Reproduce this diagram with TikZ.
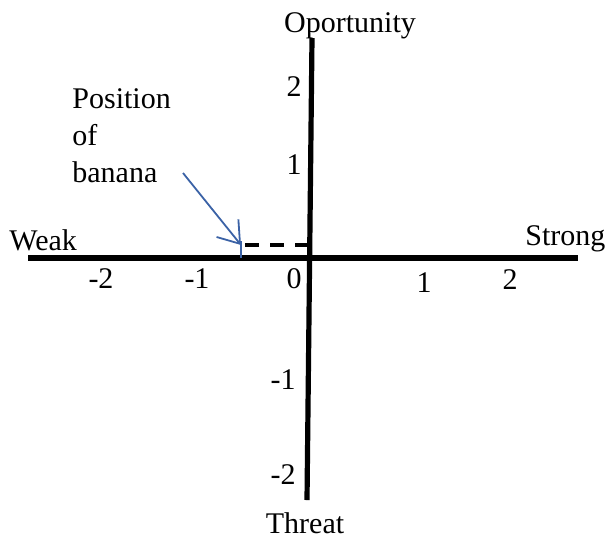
\documentclass[tikz,border=0pt]{standalone}
\usepackage{fontspec}
\setmainfont{Liberation Serif}
\newfontfamily\plotfont{Liberation Serif}
\usepackage{xcolor}
\usetikzlibrary{arrows.meta,calc,positioning}
\definecolor{arrowblue}{HTML}{3B62A6}

\begin{document}
\begin{tikzpicture}[x=0.5pt,y=-0.5pt,
  axis/.style={line width=2.6pt,black},
  lbl/.style={font=\plotfont\fontsize{15}{18.5}\selectfont,inner sep=0pt},
  num/.style={lbl},
  guide/.style={line width=2pt,dash pattern=on 7pt off 5.5pt},
  pointer/.style={-{Straight Barb[length=10pt,width=14pt,line width=0.9pt]},line width=0.9pt,arrowblue}]
  \useasboundingbox (0,0) rectangle (609,542);
  % axes
  \coordinate (xl) at (28,258);
  \coordinate (xr) at (578,258);
  \coordinate (yt) at (312,38);
  \coordinate (yb) at (307,500);
  \draw[axis] (xl) -- (xr);
  \draw[axis] (yt) -- (yb);
  % axis names
  \node[lbl,anchor=base] (opp) at (350,32) {Oportunity};
  \node[lbl,anchor=base] (thr) at (305,533) {Threat};
  \node[lbl,anchor=base west] (weak) at (9,250) {Weak};
  \node[lbl,anchor=base west] (strong) at (525,245) {Strong};
  % ticks on the horizontal axis
  \node[num,anchor=base] (xm2) at (101,288) {-2};
  \node[num,anchor=base] (xm1) at (197,288) {-1};
  \node[num,anchor=base] (x0) at (294,288) {0};
  \node[num,anchor=base] (x1) at (424,292) {1};
  \node[num,anchor=base] (x2) at (510,289) {2};
  % ticks on the vertical axis
  \node[num,anchor=base] (y2) at (294,96) {2};
  \node[num,anchor=base] (y1) at (294,174) {1};
  \node[num,anchor=base] (ym1) at (283,389) {-1};
  \node[num,anchor=base] (ym2) at (283,484) {-2};
  % banana
  \node[lbl,anchor=base west,align=left] (pos) at (72,182)
    {Position\\of\\banana};
  \coordinate (tail) at (183,173);
  \coordinate (tip) at (241,245);
  \coordinate (mark) at (308,245);
  \draw[guide] ($(tip)+(4,0)$) -- (mark);
  \draw[arrowblue,line width=0.6pt] ($(tip)+(0,-4)$) -- (tip |- xl);
  \draw[pointer] (tail) -- (tip);
\end{tikzpicture}
\end{document}
